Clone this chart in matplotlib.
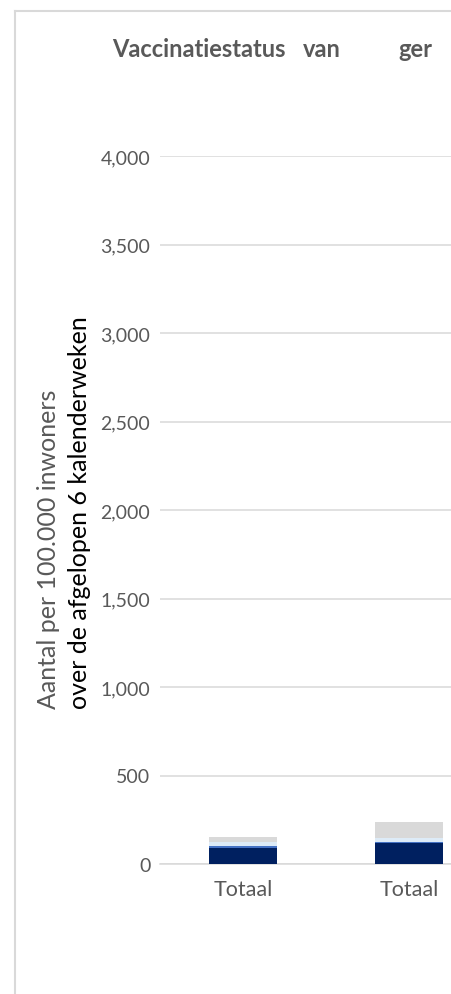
import matplotlib
matplotlib.use("Agg")
import matplotlib.pyplot as plt
from matplotlib.lines import Line2D

plt.rcParams['font.family'] = ['Lato', 'DejaVu Sans']

# Data
categories = ["Totaal", "Totaal"]
volledig = [93, 116]
deels = [6, 6]
eerste = [28, 23]
niet = [28, 90]
series = [volledig, deels, eerste, niet]
colors = ['#002060', '#4472c4', '#ddebf7', '#d9d9d9']
yticks = [0, 500, 1000, 1500, 2000, 2500, 3000, 3500, 4000]
title_words = ["Vaccinatiestatus", "van", "ger"]

W, H = 452, 995
fig = plt.figure(figsize=(W / 100, H / 100), dpi=100)
fig.patch.set_facecolor('white')

def fx(px):
    return px / W

def fy(py):
    return 1 - py / H

# plot area: x from 160, 166 px per category; y from 865 (0) to 157 (4000)
ax = fig.add_axes([fx(160), fy(865), 332 / W, (865 - 157) / H])
x = list(range(len(categories)))
bottom = [0] * len(categories)
for vals, c in zip(series, colors):
    ax.bar(x, vals, width=0.404, bottom=bottom, color=c, linewidth=0, zorder=3)
    bottom = [b + v for b, v in zip(bottom, vals)]

ax.set_xlim(-0.5, 1.5)
ax.set_ylim(0, 4000)
ax.set_yticks(yticks)
ax.set_yticklabels([f"{v:,}" for v in yticks])
ax.set_xticks(x)
ax.set_xticklabels(categories)
ax.grid(axis='y', color='#d9d9d9', linewidth=1.1, zorder=0)
ax.set_axisbelow(True)
for s in ['top', 'right', 'left']:
    ax.spines[s].set_visible(False)
ax.spines['bottom'].set_color('#d9d9d9')
ax.spines['bottom'].set_linewidth(1.1)
ax.tick_params(axis='both', length=0, labelcolor='#595959')
ax.tick_params(axis='y', pad=7, labelsize=14)
ax.tick_params(axis='x', pad=11, labelsize=15.5)

# axis title in two colours
fig.text(fx(49), fy(709), "Aantal per 100.000 inwoners", rotation=90,
         rotation_mode='anchor', ha='left', va='center', fontsize=18,
         color='#595959')
fig.text(fx(80), fy(709), "over de afgelopen 6 kalenderweken", rotation=90,
         rotation_mode='anchor', ha='left', va='center', fontsize=18,
         color='black')

# title, widely spaced words, running into the right edge
for word, px in zip(title_words, [112, 303, 398]):
    fig.text(fx(px), fy(57), word, fontsize=17, fontweight='bold',
             color='#595959', va='baseline')

# chart frame
fig.add_artist(Line2D([fx(15), fx(15)], [fy(12), 0], color='#d9d9d9', linewidth=1.5))
fig.add_artist(Line2D([fx(15), 1], [fy(12), fy(12)], color='#d9d9d9', linewidth=1.5))

fig.savefig('out.png', dpi=100, facecolor='white')
